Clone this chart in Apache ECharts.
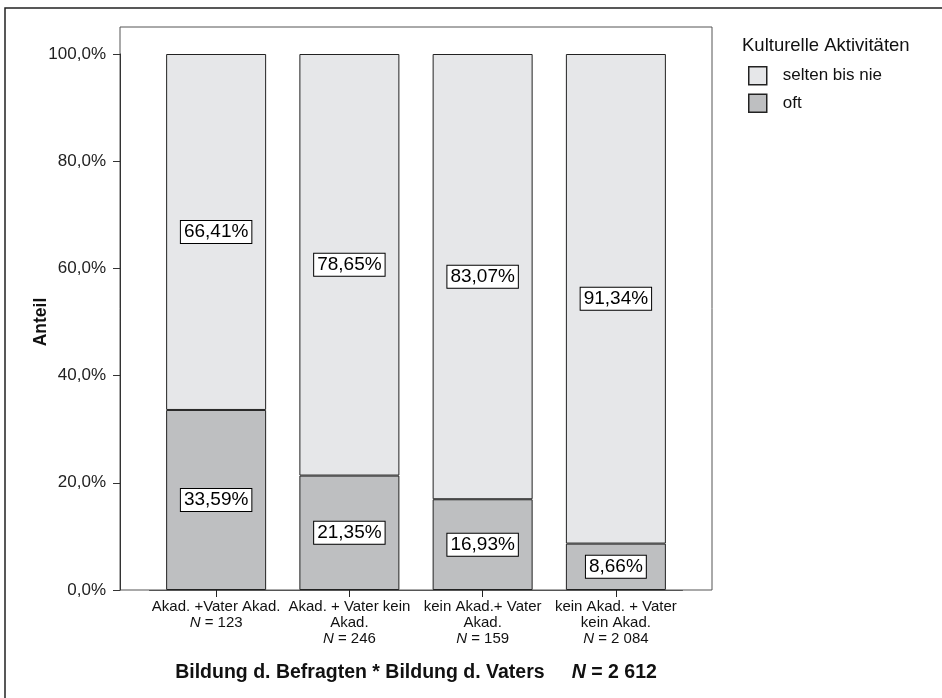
<!DOCTYPE html>
<html>
<head>
<meta charset="utf-8">
<script src="https://cdn.jsdelivr.net/npm/echarts@6/dist/echarts.min.js"></script>
<style>
html,body{margin:0;padding:0;background:#fff;}
#c{width:942px;height:698px;}
</style>
</head>
<body>
<div id="c"></div>
<script>
const categories = ["Akad. +Vater Akad.", "Akad. + Vater kein\nAkad.", "kein Akad.+ Vater\nAkad.", "kein Akad. + Vater\nkein Akad."];
const groupN = ["123", "246", "159", "2 084"];
const oftValues = [33.59, 21.35, 16.93, 8.66];
const seltenValues = [66.41, 78.65, 83.07, 91.34];
const yTicks = [0, 20, 40, 60, 80, 100];
const seriesNames = ["selten bis nie", "oft"];
const legendTitle = "Kulturelle Aktivitäten";
const xTitle = "Bildung d. Befragten * Bildung d. Vaters";
const totalN = "2 612";
const yTitle = "Anteil";

const FONT = '"Liberation Sans", Arial, Helvetica, sans-serif';
const fmt = v => v.toFixed(2).replace('.', ',') + '%';

const labelStyle = {
  show: true,
  position: 'inside',
  formatter: p => fmt(p.value),
  color: '#000',
  fontSize: 19,
  fontFamily: FONT,
  backgroundColor: '#fff',
  borderColor: '#000',
  borderWidth: 1,
  padding: [2, 3, 1, 3]
};

const chart = echarts.init(document.getElementById('c'), null, {renderer: 'canvas'});
chart.setOption({
  animation: false,
  backgroundColor: '#fff',
  textStyle: {fontFamily: FONT},
  title: {
    text: legendTitle,
    left: 742, top: 36, padding: 0,
    textStyle: {fontSize: 18.5, fontWeight: 'normal', color: '#111', fontFamily: FONT}
  },
  legend: {
    data: seriesNames,
    orient: 'vertical',
    left: 748, top: 66, padding: 0,
    itemWidth: 18, itemHeight: 18, itemGap: 8,
    icon: 'rect',
    itemStyle: {borderColor: '#222', borderWidth: 1.5},
    textStyle: {fontSize: 17, lineHeight: 18, color: '#111', fontFamily: FONT, padding: [0, 0, 0, 11]}
  },
  graphic: [
    {type: 'rect', shape: {x: 5, y: 8, width: 1200, height: 1200}, style: {fill: 'none', stroke: '#222', lineWidth: 1.5}, silent: true, z: -10},
    {type: 'rect', shape: {x: 120, y: 27, width: 592, height: 563}, style: {fill: 'none', stroke: '#555', lineWidth: 1}, silent: true, z: -5}
  ],
  grid: {left: 149.5, right: 259.5, top: 54, height: 536, containLabel: false},
  xAxis: {
    type: 'category',
    data: categories,
    axisLine: {show: true, lineStyle: {color: '#555', width: 1}},
    axisTick: {show: true, alignWithLabel: true, length: 7, lineStyle: {color: '#222'}},
    axisLabel: {
      interval: 0,
      margin: 9,
      fontSize: 15, color: '#111', fontFamily: FONT, lineHeight: 16,
      formatter: (v, i) => v + '\n{i|N} = ' + groupN[i],
      rich: {i: {fontStyle: 'italic', fontSize: 15, color: '#111', fontFamily: FONT, lineHeight: 16}}
    },
    name: xTitle + '     {i|N} = ' + totalN,
    nameLocation: 'middle',
    nameGap: 73,
    nameMoveOverlap: false,
    nameTextStyle: {
      fontSize: 19.5, fontWeight: 'bold', color: '#111', fontFamily: FONT,
      rich: {i: {fontStyle: 'italic', fontWeight: 'bold', fontSize: 19.5, color: '#111', fontFamily: FONT}}
    }
  },
  yAxis: {
    type: 'value',
    min: 0, max: 100, interval: 20,
    offset: 29.5,
    splitLine: {show: false},
    axisLine: {show: true, lineStyle: {color: '#333', width: 1}},
    axisTick: {show: true, length: 7, lineStyle: {color: '#333'}},
    axisLabel: {
      margin: 14, fontSize: 17, color: '#222', fontFamily: FONT,
      formatter: v => yTicks.includes(v) ? v.toFixed(1).replace('.', ',') + '%' : ''
    },
    name: yTitle,
    nameLocation: 'middle',
    nameRotate: 90,
    nameGap: 70,
    nameMoveOverlap: false,
    nameTextStyle: {fontSize: 17.5, fontWeight: 'bold', color: '#111', fontFamily: FONT}
  },
  series: [
    {
      name: seriesNames[1], type: 'bar', stack: 'total', data: oftValues,
      barWidth: 100,
      itemStyle: {color: '#bebfc1', borderColor: '#222', borderWidth: 1},
      label: labelStyle
    },
    {
      name: seriesNames[0], type: 'bar', stack: 'total', data: seltenValues,
      barWidth: 100,
      itemStyle: {color: '#e6e7e9', borderColor: '#222', borderWidth: 1},
      label: labelStyle
    }
  ]
});
</script>
</body>
</html>
